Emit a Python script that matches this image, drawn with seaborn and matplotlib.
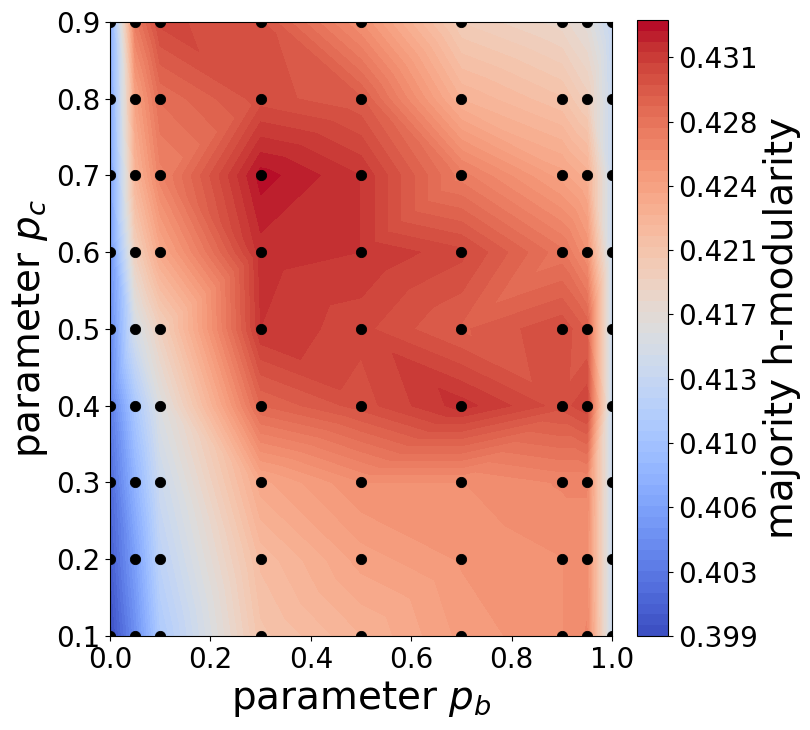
import numpy as np
import pandas as pd
import matplotlib
matplotlib.use('Agg')
import matplotlib.pyplot as plt
import seaborn as sns

# grid of simulated parameters
pb = [0.0, 0.05, 0.1, 0.3, 0.5, 0.7, 0.9, 0.95, 1.0]
pc = [0.1, 0.2, 0.3, 0.4, 0.5, 0.6, 0.7, 0.8, 0.9]

# majority h-modularity, one row per pc value (columns follow pb)
hmod = [
    [0.3992, 0.4045, 0.4110, 0.4205, 0.4225, 0.4245, 0.4255, 0.4262, 0.4138],
    [0.4005, 0.4060, 0.4125, 0.4215, 0.4240, 0.4250, 0.4255, 0.4258, 0.4138],
    [0.4015, 0.4080, 0.4140, 0.4235, 0.4255, 0.4255, 0.4262, 0.4262, 0.4138],
    [0.4030, 0.4105, 0.4160, 0.4285, 0.4300, 0.4318, 0.4300, 0.4308, 0.4138],
    [0.4040, 0.4150, 0.4190, 0.4315, 0.4305, 0.4290, 0.4302, 0.4290, 0.4138],
    [0.4050, 0.4190, 0.4235, 0.4318, 0.4315, 0.4305, 0.4275, 0.4255, 0.4138],
    [0.4060, 0.4222, 0.4265, 0.4330, 0.4315, 0.4270, 0.4240, 0.4228, 0.4138],
    [0.4065, 0.4240, 0.4280, 0.4300, 0.4292, 0.4225, 0.4208, 0.4192, 0.4138],
    [0.4070, 0.4270, 0.4305, 0.4298, 0.4255, 0.4195, 0.4180, 0.4168, 0.4132],
]

rows = []
for i, c in enumerate(pc):
    for j, b in enumerate(pb):
        rows.append({'pb': b, 'pc': c, 'hmod': hmod[i][j]})
df = pd.DataFrame(rows)

levels = np.linspace(0.3992, 0.4333, 58)
ticks = np.linspace(0.3992, 0.43124, 10)

fig = plt.figure(figsize=(8.1, 7.3), dpi=100)
ax = fig.add_axes([0.1358, 0.1288, 0.6198, 0.8411])
cax = fig.add_axes([0.7864, 0.1288, 0.0383, 0.8438])

cs = ax.tricontourf(df['pb'], df['pc'], df['hmod'], levels=levels, cmap='coolwarm')
sns.scatterplot(data=df, x='pb', y='pc', color='black', s=55, edgecolor=None,
                legend=False, ax=ax, zorder=3)

ax.set_xlim(0, 1)
ax.set_ylim(0.1, 0.9)
ax.set_xticks([0.0, 0.2, 0.4, 0.6, 0.8, 1.0])
ax.set_yticks(pc)
ax.tick_params(labelsize=20)
ax.set_xlabel('parameter $p_b$', fontsize=28)
ax.set_ylabel('parameter $p_c$', fontsize=28)

cbar = fig.colorbar(cs, cax=cax, ticks=ticks, format='%.3f')
cbar.ax.tick_params(labelsize=20)
cbar.set_label('majority h-modularity', fontsize=28)

fig.savefig('out.png', dpi=100)
